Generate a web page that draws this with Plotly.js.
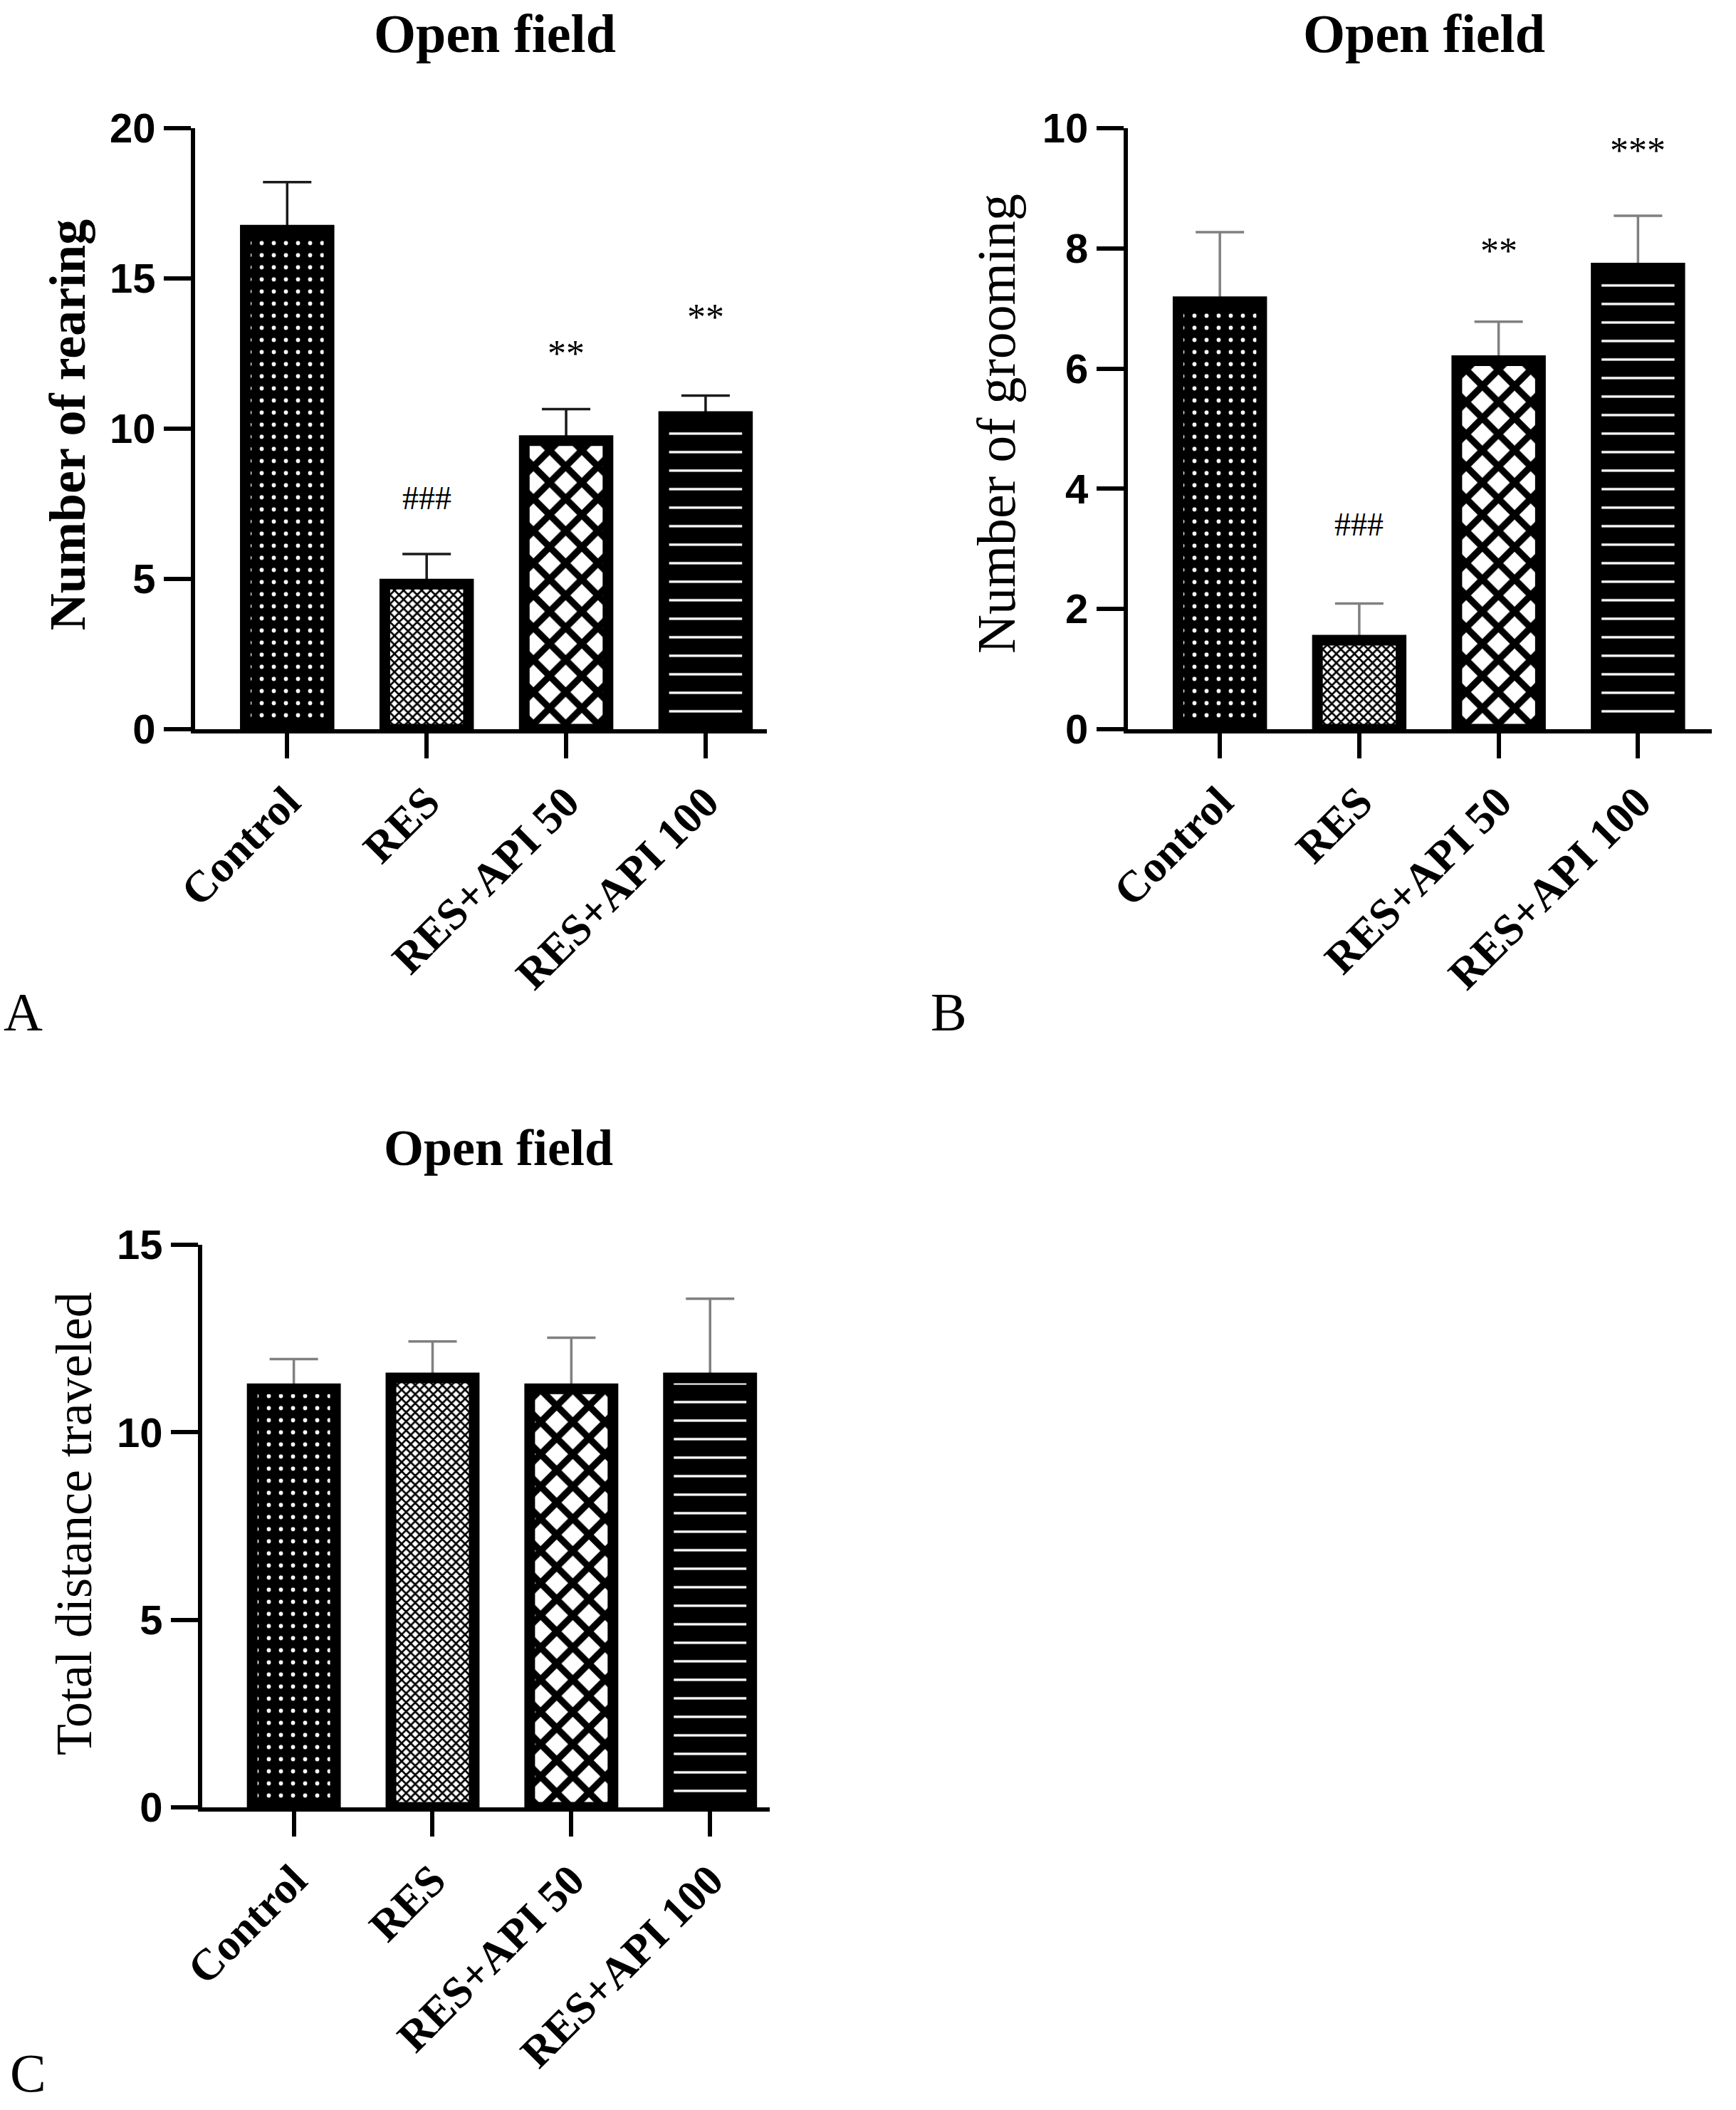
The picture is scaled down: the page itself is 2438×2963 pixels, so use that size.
<!DOCTYPE html>
<html>
<head>
<meta charset="utf-8">
<script src="https://cdn.plot.ly/plotly-3.0.1.min.js"></script>
<style>
  body { margin: 0; background: #fff; }
  #plot { width: 2438px; height: 2963px; }
</style>
</head>
<body>
<div id="plot"></div>
<script>
// groups
var groups = ["Control", "RES", "RES+API 50", "RES+API 100"];

// A - rearing
var rearMean = [16.6, 4.83, 9.6, 10.4];
var rearSem = [1.6, 1.0, 1.05, 0.7];
var rearSig = ["", "###", "**", "**"];
var rearSigY = [0, 7.7, 12.5, 13.7];

// B - grooming
var groomMean = [7.11, 1.48, 6.13, 7.67];
var groomSem = [1.16, 0.61, 0.65, 0.87];
var groomSig = ["", "###", "**", "***"];
var groomSigY = [0, 3.4, 7.96, 9.62];

// C - distance
var distMean = [11.16, 11.45, 11.16, 11.45];
var distSem = [0.79, 0.97, 1.36, 2.11];

// fills, one per group
var patterns = [
  {shape: ".", bgcolor: "black", fgcolor: "white", size: 17, solidity: 0.09},
  {shape: "x", bgcolor: "white", fgcolor: "black", size: 9, solidity: 0.5},
  {shape: "x", bgcolor: "white", fgcolor: "black", size: 32, solidity: 0.5},
  {shape: "-", bgcolor: "black", fgcolor: "white", size: 26, solidity: 0.13}
];

var serif = "Liberation Serif, Times New Roman, serif";
var sans = "Liberation Sans, Arial, sans-serif";

// error bars sit on an empty bar drawn first, so the patterned bar covers the lower cap
function errTrace(mean, sem, xa, ya, errColor) {
  return {
    type: "bar",
    x: groups,
    y: mean,
    xaxis: xa,
    yaxis: ya,
    width: 0.6,
    marker: {color: "rgba(0,0,0,0)", line: {width: 0}},
    error_y: {
      type: "data",
      symmetric: false,
      array: sem,
      arrayminus: sem.map(function () { return 0; }),
      color: errColor,
      thickness: 3.5,
      width: 34
    },
    hoverinfo: "skip"
  };
}

function barTrace(mean, xa, ya) {
  return {
    type: "bar",
    x: groups,
    y: mean,
    xaxis: xa,
    yaxis: ya,
    width: 0.6,
    marker: {
      color: "black",
      line: {color: "black", width: 15},
      pattern: {
        shape: patterns.map(function (p) { return p.shape; }),
        bgcolor: patterns.map(function (p) { return p.bgcolor; }),
        fgcolor: patterns.map(function (p) { return p.fgcolor; }),
        size: patterns.map(function (p) { return p.size; }),
        solidity: patterns.map(function (p) { return p.solidity; }),
        fillmode: "replace"
      }
    },
    hoverinfo: "skip"
  };
}

var data = [
  errTrace(rearMean, rearSem, "x", "y", "#1a1a1a"),
  barTrace(rearMean, "x", "y"),
  errTrace(groomMean, groomSem, "x2", "y2", "#808080"),
  barTrace(groomMean, "x2", "y2"),
  errTrace(distMean, distSem, "x3", "y3", "#808080"),
  barTrace(distMean, "x3", "y3")
];

function xAxis(domain, right, anchor) {
  return {
    domain: domain,
    anchor: anchor,
    type: "category",
    range: [-0.66, right],
    showline: true, linecolor: "black", linewidth: 6,
    ticks: "outside", ticklen: 35, tickwidth: 6, tickcolor: "black",
    tickangle: -45,
    tickfont: {family: serif, size: 62, color: "black", weight: "bold"},
    showgrid: false, zeroline: false, fixedrange: true
  };
}

function yAxis(domain, max, dtick, anchor) {
  return {
    domain: domain,
    anchor: anchor,
    range: [0, max],
    dtick: dtick,
    showline: true, linecolor: "black", linewidth: 6,
    ticks: "outside", ticklen: 38, tickwidth: 6, tickcolor: "black",
    tickfont: {family: sans, size: 58, color: "black", weight: "bold"},
    showgrid: false, zeroline: false, fixedrange: true
  };
}

var annotations = [];

function addText(text, x, y, size, bold, angle, yanchor) {
  annotations.push({
    text: text, xref: "paper", yref: "paper", x: x, y: y,
    xanchor: "center", yanchor: yanchor || "middle", showarrow: false,
    textangle: angle || 0,
    font: {family: serif, size: size, color: "black", weight: bold ? "bold" : "normal"}
  });
}

addText("Open field", 0.2851, 0.999, 76, true, 0, "top");
addText("Open field", 0.8203, 0.999, 76, true, 0, "top");
addText("Open field", 0.2871, 0.4560, 72, true);
addText("Number of rearing", 0.0390, 0.7985, 72, true, -90);
addText("Number of grooming", 0.5738, 0.7992, 76, false, -90);
addText("Total distance traveled", 0.0427, 0.2778, 72, false, -90);
addText("A", 0.0135, 0.5204, 76, false);
addText("B", 0.5464, 0.5204, 76, false);
addText("C", 0.0164, 0.0175, 76, false);

function addSig(labels, ys, xr, yr) {
  labels.forEach(function (t, i) {
    if (!t) return;
    annotations.push({
      text: t, x: groups[i], y: ys[i], xref: xr, yref: yr,
      showarrow: false, xanchor: "center", yanchor: "middle",
      font: {family: serif, size: t.charAt(0) === "#" ? 46 : 52, color: "black"}
    });
  });
}
addSig(rearSig, rearSigY, "x", "y");
addSig(groomSig, groomSigY, "x2", "y2");

var layout = {
  width: 2438,
  height: 2963,
  margin: {l: 0, r: 0, t: 0, b: 0},
  paper_bgcolor: "white",
  plot_bgcolor: "white",
  showlegend: false,
  barmode: "overlay",
  xaxis: xAxis([0.1124, 0.4418], 3.44, "y"),
  yaxis: yAxis([0.6544, 0.9393], 20, 5, "x"),
  xaxis2: xAxis([0.6497, 0.9861], 3.53, "y2"),
  yaxis2: yAxis([0.6544, 0.9393], 10, 2, "x2"),
  xaxis3: xAxis([0.1165, 0.4434], 3.43, "y3"),
  yaxis3: yAxis([0.1434, 0.4101], 15, 5, "x3"),
  annotations: annotations
};

Plotly.newPlot("plot", data, layout, {staticPlot: true});
</script>
</body>
</html>
